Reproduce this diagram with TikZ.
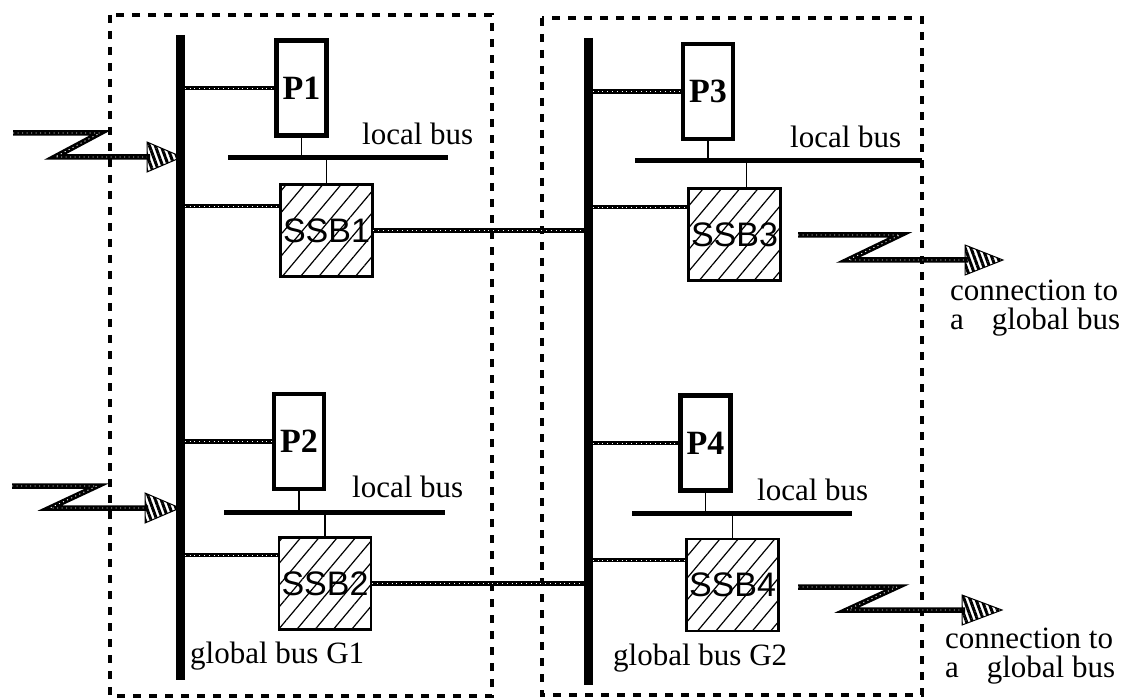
\documentclass[tikz,border=0pt]{standalone}
\usepackage{fontspec}
\setmainfont{Liberation Serif}
\newfontfamily\ssbfont{Liberation Sans}
\usetikzlibrary{patterns.meta}
\begin{document}
\begin{tikzpicture}[x=1pt,y=-1pt,
  region/.style={draw=black, line width=4.5pt, dash pattern=on 8pt off 8pt},
  gbus/.style={line width=9pt},
  lbus/.style={line width=5pt},
  tap/.style={line width=1.8pt},
  pbox/.style={draw, fill=white, line width=4.5pt, minimum width=50pt, minimum height=95pt, inner sep=0pt, font=\fontsize{34}{34}\selectfont\bfseries},
  ssb/.style={draw, line width=2.8pt, minimum width=92pt, minimum height=92pt, inner sep=0pt, pattern={Lines[angle=50,distance=14pt,line width=1.2pt]}, font=\ssbfont\fontsize{34}{34}\selectfont},
  rope/.style={draw=black, line width=4.2pt, postaction={draw=white, line width=0.7pt, dash pattern=on 0.8pt off 4pt}},
  bolt/.style={draw=black, line width=5.5pt, line join=miter, postaction={draw=white, line width=0.9pt, dash pattern=on 1pt off 3.5pt}},
  head/.style={draw=black, line width=1pt, pattern={Lines[angle=110,distance=5.5pt,line width=3pt]}},
  lbl/.style={font=\fontsize{31}{29}\selectfont, inner sep=0pt},
]
\useasboundingbox (0,0) rectangle (1145,700);

% dashed regions
\draw[region] (110,15) rectangle (492,696);
\draw[region] (542,18) rectangle (922,695);

% global bus ends
\coordinate (g1t) at (180,35);
\coordinate (g1b) at (180,680);
\coordinate (g2t) at (588,38);
\coordinate (g2b) at (588,685);

% local bus ends
\coordinate (lb1a) at (228,158); \coordinate (lb1b) at (448,158);
\coordinate (lb2a) at (224,512); \coordinate (lb2b) at (445,512);
\coordinate (lb3a) at (635,161); \coordinate (lb3b) at (922,161);
\coordinate (lb4a) at (632,513); \coordinate (lb4b) at (852,513);

% processors and SSBs
\node[pbox] (P1) at (301.5,88) {P1};
\node[pbox] (P2) at (299,441.5) {P2};
\node[pbox] (P3) at (708,91.5) {P3};
\node[pbox] (P4) at (705.5,443) {P4};
\node[ssb] (S1) at (326.5,230.5) {SSB1};
\node[ssb] (S2) at (325,583.5) {SSB2};
\node[ssb] (S3) at (734.5,234.5) {SSB3};
\node[ssb] (S4) at (732.5,585) {SSB4};

% rope links to global buses
\coordinate (t1) at (180,206);
\coordinate (t2) at (180,555);
\coordinate (t3) at (588,207);
\coordinate (t4) at (588,560);
\draw[rope] (g1t |- P1.west) -- (P1.west);
\draw[rope] (t1) -- (t1 -| S1.west);
\draw[rope] (S1.east) -- (S1.east -| g2t);
\draw[rope] (g1t |- P2.west) -- (P2.west);
\draw[rope] (t2) -- (t2 -| S2.west);
\draw[rope] (S2.east) -- (S2.east -| g2t);
\draw[rope] (g2t |- P3.west) -- (P3.west);
\draw[rope] (t3) -- (t3 -| S3.west);
\draw[rope] (g2t |- P4.west) -- (P4.west);
\draw[rope] (t4) -- (t4 -| S4.west);

% global buses
\draw[gbus] (g1t) -- (g1b);
\draw[gbus] (g2t) -- (g2b);

% local buses and taps
\draw[lbus] (lb1a) -- (lb1b);
\draw[lbus] (lb2a) -- (lb2b);
\draw[lbus] (lb3a) -- (lb3b);
\draw[lbus] (lb4a) -- (lb4b);
\draw[tap] (P1.south) -- (P1.south |- lb1a);
\draw[tap] (S1.north) -- (S1.north |- lb1a);
\draw[tap] (P2.south) -- (P2.south |- lb2a);
\draw[tap] (S2.north) -- (S2.north |- lb2a);
\draw[tap] (P3.south) -- (P3.south |- lb3a);
\draw[tap] ([xshift=12pt]S3.north) -- ([xshift=12pt]S3.north |- lb3a);
\draw[tap] (P4.south) -- (P4.south |- lb4a);
\draw[tap] (S4.north) -- (S4.north |- lb4a);

% labels
\node[lbl, anchor=base west] (L1) at (362,145) {local bus};
\node[lbl, anchor=base west] (L2) at (352,497) {local bus};
\node[lbl, anchor=base west] (L3) at (790,148) {local bus};
\node[lbl, anchor=base west] (L4) at (757,500) {local bus};
\node[lbl, anchor=base west] (G1) at (190,663) {global bus G1};
\node[lbl, anchor=base west] (G2) at (613,665) {global bus G2};
\node[lbl, anchor=base west, align=left] (C1) at (950,330) {connection to\\a\hspace{0.9em}global bus};
\node[lbl, anchor=base west, align=left] (C2) at (945,677) {connection to\\a\hspace{0.9em}global bus};

% lightning arrows
\coordinate (a1s) at (13,133);
\coordinate (a1e) at (150,157);
\draw[bolt] (a1s) -- (100,133) -- (55,157) -- (a1e);
\draw[head] (147,142) -- (182,157) -- (147,172) -- cycle;

\coordinate (a2s) at (12,486);
\coordinate (a2e) at (148,508);
\draw[bolt] (a2s) -- (97,486) -- (50,508) -- (a2e);
\draw[head] (145,493) -- (180,508) -- (145,523) -- cycle;

\coordinate (a3s) at (798,235);
\coordinate (a3e) at (968,260);
\draw[bolt] (a3s) -- (900,235) -- (848,260) -- (a3e);
\draw[head] (965,245) -- (1003,260) -- (965,275) -- cycle;

\coordinate (a4s) at (798,587);
\coordinate (a4e) at (965,610);
\draw[bolt] (a4s) -- (897,587) -- (847,610) -- (a4e);
\draw[head] (962,595) -- (1002,610) -- (962,625) -- cycle;
\end{tikzpicture}
\end{document}
